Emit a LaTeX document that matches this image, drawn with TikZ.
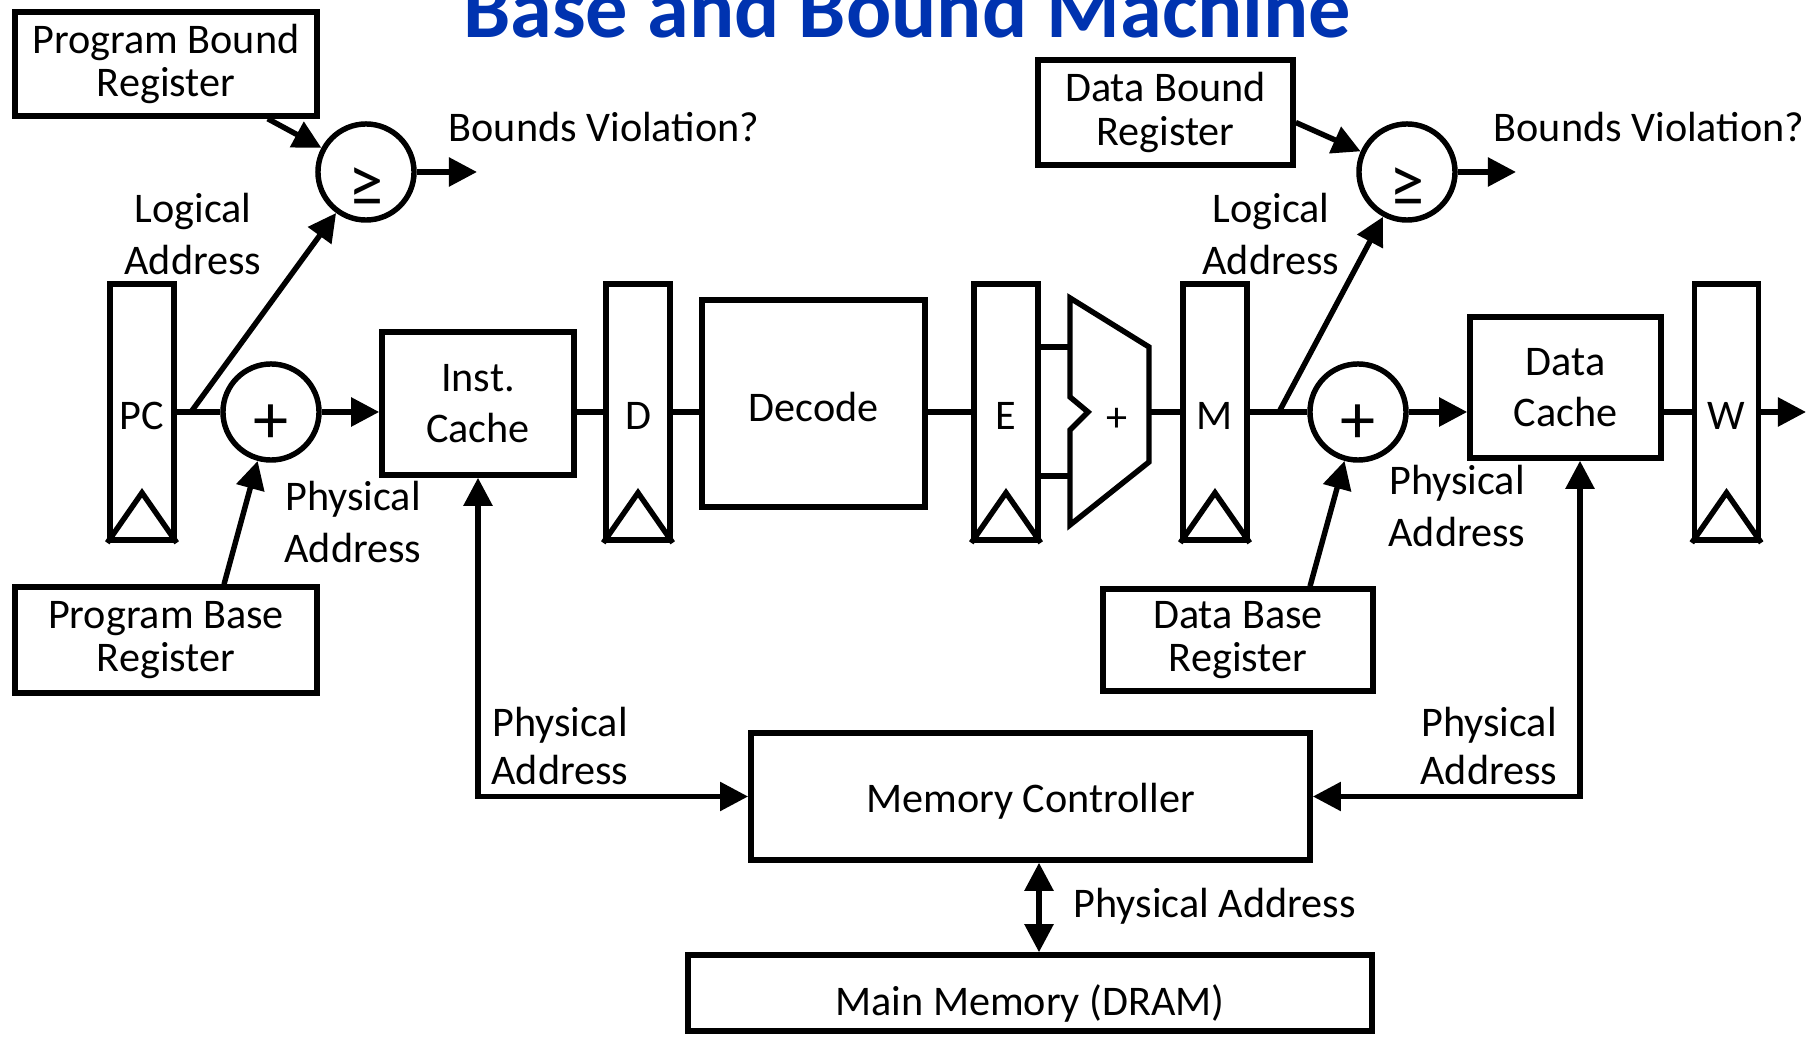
\documentclass[tikz,border=0pt]{standalone}
\usepackage{fontspec}
\setmainfont{Carlito}
\usetikzlibrary{arrows.meta,calc}
\definecolor{titleblue}{RGB}{0,51,176}
\newcommand{\bxfont}{\fontsize{12}{12.3}\selectfont}
\newcommand{\cachefont}{\fontsize{12}{14.3}\selectfont}
\newcommand{\lbfont}{\fontsize{12}{14.8}\selectfont}
\begin{document}
\begin{tikzpicture}[x=0.01cm,y=-0.01cm,line width=1.55pt,
  >={Triangle[length=0.28cm,width=0.28cm]},
  regbox/.style={draw,rectangle,inner sep=0pt,minimum width=0.64cm,minimum height=2.56cm,
    font=\fontsize{12}{12}\selectfont,text height=0.35cm,text depth=0pt},
  blockbox/.style={draw,rectangle,inner sep=0pt,align=center,font=\bxfont},
  cachebox/.style={draw,rectangle,inner sep=0pt,align=center,font=\cachefont},
  opcirc/.style={draw,circle,inner sep=0pt,minimum size=0.96cm},
  lbl/.style={align=center,anchor=base,inner sep=0pt}]
\useasboundingbox (0,0) rectangle (1820,1037);

% title
\node[anchor=base,inner sep=0pt,font=\fontsize{24}{24}\selectfont\bfseries,text=titleblue]
  (title) at (907,38) {Base and Bound Machine};

% pipeline registers
\node[regbox] (pc)   at (142,412)    {PC};
\node[regbox] (dreg) at (638,412)    {D};
\node[regbox] (ereg) at (1006,412)   {E};
\node[regbox] (mreg) at (1215,412)   {M};
\node[regbox] (wreg) at (1726.5,412) {W};
\foreach \r in {pc,dreg,ereg,mreg,wreg}
  \draw (\r.south west) -- ([yshift=0.5cm]\r.south) -- (\r.south east);

% blocks
\node[blockbox,minimum width=3.02cm,minimum height=1.04cm] (pbr)    at (166,64)      {Program Bound\\Register};
\node[blockbox,minimum width=3.02cm,minimum height=1.06cm] (pbaser) at (166,640)     {Program Base\\Register};
\node[blockbox,minimum width=2.55cm,minimum height=1.05cm] (dbr)    at (1165.5,112.5) {Data Bound\\Register};
\node[blockbox,minimum width=2.70cm,minimum height=1.02cm] (dbaser) at (1238,640)    {Data Base\\Register};
\node[cachebox,minimum width=1.92cm,minimum height=1.43cm] (icache) at (478,403.5)   {Inst.\\Cache};
\node[cachebox,minimum width=1.91cm,minimum height=1.41cm] (dcache) at (1565.5,387.5) {Data\\Cache};
\node[draw,inner sep=0pt,minimum width=2.23cm,minimum height=2.07cm,font=\fontsize{12}{12}\selectfont,
  text height=0.36cm,text depth=0pt] (decode) at (813.5,403.5) {Decode};
\node[draw,inner sep=0pt,minimum width=5.59cm,minimum height=1.27cm,font=\fontsize{12}{12}\selectfont,
  text height=0.31cm,text depth=0pt] (mc) at (1030.5,796.5) {Memory Controller};
\node[draw,inner sep=0pt,minimum width=6.84cm,minimum height=0.76cm,font=\fontsize{12}{12}\selectfont,
  text height=0.44cm,text depth=0pt] (mm) at (1030,993) {Main Memory (DRAM)};

% adders and comparators
\node[opcirc,font=\fontsize{20}{20}\selectfont,text height=0.632cm,text depth=0pt] (plus1) at (271,412)  {+};
\node[opcirc,font=\fontsize{20}{20}\selectfont,text height=0.632cm,text depth=0pt] (plus2) at (1358,412) {+};
\node[opcirc,font=\fontsize{20}{20}\selectfont,text height=0.69cm,text depth=0pt] (geq1) at (366,172)  {≥};
\node[opcirc,font=\fontsize{20}{20}\selectfont,text height=0.69cm,text depth=0pt] (geq2) at (1407,172) {≥};

% ALU
\draw (1070,298) -- (1149,347) -- (1149,462) -- (1070,525) -- (1070,430)
      -- (1088,412) -- (1070,397) -- cycle;
\node[inner sep=0pt,font=\fontsize{12}{12}\selectfont] (aluop) at (1117,420) {+};
\coordinate (aluA) at (1070,347);
\coordinate (aluB) at (1070,476);
\coordinate (aluO) at (1149,412);

% free ends and branch points
\coordinate (br1) at (191,412);
\coordinate (br2) at (1279,412);
\coordinate (out1) at (477,172);
\coordinate (out2) at (1516,172);
\coordinate (out3) at (1806,412);

% datapath along the bus line
\draw (pc.east) -- (plus1.west);
\draw[->] (plus1.east) -- (plus1.east -| icache.west);
\draw (icache.east |- dreg.west) -- (dreg.west);
\draw (dreg.east) -- (dreg.east -| decode.west);
\draw (decode.east |- ereg.west) -- (ereg.west);
\draw (ereg.east |- aluA) -- (aluA);
\draw (ereg.east |- aluB) -- (aluB);
\draw (aluO) -- (mreg.west);
\draw (mreg.east) -- (plus2.west);
\draw[->] (plus2.east) -- (plus2.east -| dcache.west);
\draw (dcache.east |- wreg.west) -- (wreg.west);
\draw[->] (wreg.east) -- (out3);

% bounds checks
\draw[->] (br1) -- (geq1);
\draw[->] ([xshift=-0.52cm]pbr.south east) -- (geq1);
\draw[->] (geq1.east) -- (out1);
\draw[->] ([xshift=0.58cm]pbaser.north) -- (plus1);
\draw[->] (br2) -- (geq2);
\draw[->] ([yshift=-0.1cm]dbr.east) -- (geq2);
\draw[->] (geq2.east) -- (out2);
\draw[->] ([xshift=0.72cm]dbaser.north) -- (plus2);

% memory side
\draw[<->] (icache.south) |- (mc.west);
\draw[<->] ([xshift=0.145cm]dcache.south) |- (mc.east);
\draw[<->] ([xshift=0.085cm]mc.south) -- ([xshift=0.085cm]mc.south |- mm.north);

% labels (base = last line)
\node[lbl,font=\lbfont] (la1) at (193,275)  {Logical\\Address};
\node[lbl,font=\lbfont] (la2) at (1271,275) {Logical\\Address};
\node[lbl,font=\fontsize{12}{15}\selectfont]   (pa1) at (353,563)  {Physical\\Address};
\node[lbl,font=\lbfont]                        (pa2) at (1457,547) {Physical\\Address};
\node[lbl,font=\fontsize{12}{13.7}\selectfont] (pa3) at (560,785)  {Physical\\Address};
\node[lbl,font=\fontsize{12}{13.7}\selectfont] (pa4) at (1489,785) {Physical\\Address};
\node[anchor=base west,inner sep=0pt,font=\fontsize{12}{12}\selectfont] (pa5) at (1071,918) {Physical Address};
\node[anchor=base west,inner sep=0pt,font=\fontsize{12}{12}\selectfont] (bv1) at (446,142)  {Bounds Violation?};
\node[anchor=base west,inner sep=0pt,font=\fontsize{12}{12}\selectfont] (bv2) at (1491,142) {Bounds Violation?};
\end{tikzpicture}
\end{document}
